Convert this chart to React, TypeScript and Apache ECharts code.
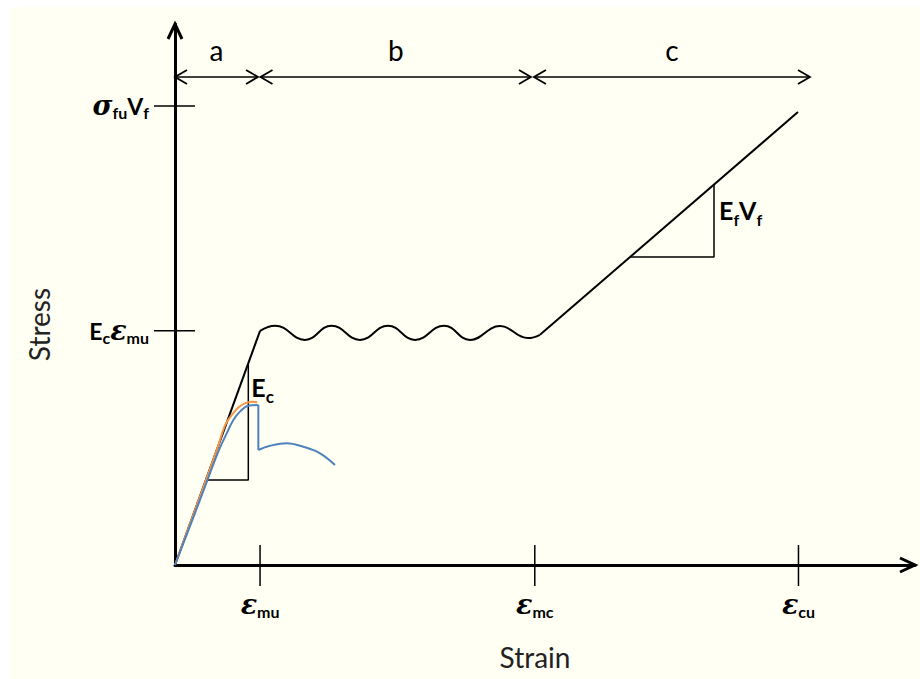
import React, { useEffect, useRef } from 'react';
import * as echarts from 'echarts';

// Schematic units: strain normalised to the matrix cracking strain,
// stress normalised to the first-cracking stress E_c·ε_mu.
const AXIS_X_MAX = 8.7;
const AXIS_Y_MAX = 2.31;

const STRAIN_TICKS = [1.0, 4.23, 7.33];          // ε_mu, ε_mc, ε_cu
const STRAIN_TICK_SUBS = ['mu', 'mc', 'cu'];
const STRESS_TICKS = [1.0, 1.96];                 // E_c ε_mu, σ_fu V_f

// Composite response: elastic rise, multiple cracking plateau, fibre-only loading
const ELASTIC = [[0, 0], [1.0, 1.0]];
const MULTIPLE_CRACKING = [
  [1.0, 1.0], [1.176, 1.022], [1.528, 0.961], [1.84, 1.022], [2.175, 0.961],
  [2.504, 1.022], [2.822, 0.961], [3.163, 1.022], [3.468, 0.961], [3.821, 1.02],
  [4.15, 0.969], [4.291, 0.983],
];
const FIBRE_LOADING = [[4.291, 0.983], [7.324, 1.934]];

// Slope triangles
const EC_TRIANGLE = [[0.373, 0.363], [0.862, 0.363], [0.862, 0.856]];
const EFVF_TRIANGLE = [[5.349, 1.315], [6.337, 1.315], [6.337, 1.627]];

// Unreinforced matrix responses
const MATRIX_A = [
  [0, 0], [0.5, 0.5], [0.588, 0.596], [0.666, 0.64], [0.745, 0.673],
  [0.823, 0.69], [0.9, 0.697], [0.967, 0.695],
];
const MATRIX_B_RISE = [
  [0, 0], [0.294, 0.278], [0.509, 0.484], [0.608, 0.562], [0.686, 0.619],
  [0.764, 0.655], [0.862, 0.68], [0.98, 0.683],
];
const MATRIX_B_DROP = [[0.98, 0.683], [0.98, 0.491]];
const MATRIX_B_TAIL = [
  [0.98, 0.491], [1.117, 0.509], [1.313, 0.52], [1.508, 0.505],
  [1.705, 0.477], [1.881, 0.427],
];

// Stage spans drawn above the curve
const SPAN_NAMES = ['a', 'b', 'c'];
const SPAN_FROM = [0, 1.005, 4.22];
const SPAN_TO = [0.976, 4.185, 7.465];
const SPAN_LEVEL = 2.084;

const LATIN = 'Lato, "Open Sans", sans-serif';
const GREEK = '"DejaVu Serif", "Liberation Serif", serif';
const INK = '#000';
const ORANGE = '#F79646';
const BLUE = '#4F81BD';

const tickRich = {
  g: { fontFamily: GREEK, fontStyle: 'italic', fontWeight: 'bold', fontSize: 27, color: INK },
  L: { fontFamily: LATIN, fontWeight: 'bold', fontSize: 23, color: INK },
  s: { fontFamily: LATIN, fontWeight: 'bold', fontSize: 16, color: INK, padding: [14, 0, 0, 0] },
};

const nearestIndex = (arr: number[], v: number) => {
  let best = 0;
  arr.forEach((a, i) => {
    if (Math.abs(a - v) < Math.abs(arr[best] - v)) best = i;
  });
  return best;
};

const chevron = (tip: number[], dir: 'left' | 'right' | 'up', len: number, half: number, width: number) => {
  const [x, y] = tip;
  let points: number[][];
  if (dir === 'right') points = [[x - len, y - half], [x, y], [x - len, y + half]];
  else if (dir === 'left') points = [[x + len, y - half], [x, y], [x + len, y + half]];
  else points = [[x - half, y + len], [x, y], [x + half, y + len]];
  return {
    type: 'polyline',
    shape: { points },
    style: { stroke: INK, lineWidth: width, fill: 'none' },
  };
};

const slopeLabel = (x: number, y: number, text: string, size: number, subSize: number, pad: number) => ({
  type: 'text',
  x,
  y,
  style: {
    text,
    fill: INK,
    align: 'left',
    verticalAlign: 'middle',
    fontFamily: LATIN,
    fontWeight: 'bold',
    fontSize: size,
    rich: {
      m: { fontFamily: LATIN, fontWeight: 'bold', fontSize: size },
      s: { fontFamily: LATIN, fontWeight: 'bold', fontSize: subSize, padding: [pad, 0, 0, 0] },
    },
  },
});

const line = (data: number[][], color: string, width: number, smooth: boolean | number, z: number) => ({
  type: 'line',
  data,
  smooth,
  symbol: 'none',
  silent: true,
  z,
  lineStyle: { color, width },
});

export default function App() {
  const ref = useRef<HTMLDivElement>(null);

  useEffect(() => {
    if (!ref.current) return;
    const chart = echarts.init(ref.current, null, { renderer: 'svg' });

    const renderDecor = (_params: any, api: any) => {
      const children: any[] = [];
      const xEnd = api.coord([AXIS_X_MAX, 0]);
      const yEnd = api.coord([0, AXIS_Y_MAX]);
      children.push(chevron(xEnd, 'right', 15, 7, 3));
      children.push(chevron(yEnd, 'up', 15, 7, 3));

      STRAIN_TICKS.forEach((v) => {
        const p = api.coord([v, 0]);
        children.push({
          type: 'line',
          shape: { x1: p[0], y1: p[1] - 20, x2: p[0], y2: p[1] + 21 },
          style: { stroke: INK, lineWidth: 1.5 },
        });
      });
      STRESS_TICKS.forEach((v) => {
        const p = api.coord([0, v]);
        children.push({
          type: 'line',
          shape: { x1: p[0] - 21, y1: p[1], x2: p[0] + 20, y2: p[1] },
          style: { stroke: INK, lineWidth: 1.5 },
        });
      });

      SPAN_NAMES.forEach((name, i) => {
        const p1 = api.coord([SPAN_FROM[i], SPAN_LEVEL]);
        const p2 = api.coord([SPAN_TO[i], SPAN_LEVEL]);
        children.push({
          type: 'line',
          shape: { x1: p1[0], y1: p1[1], x2: p2[0], y2: p2[1] },
          style: { stroke: INK, lineWidth: 1.5 },
        });
        children.push(chevron(p1, 'left', 12, 7, 1.8));
        children.push(chevron(p2, 'right', 12, 7, 1.8));
        children.push({
          type: 'text',
          x: (p1[0] + p2[0]) / 2,
          y: p1[1] - 27,
          style: {
            text: name,
            fill: INK,
            align: 'center',
            verticalAlign: 'middle',
            fontFamily: LATIN,
            fontSize: 28,
          },
        });
      });

      const ecTop = api.coord(EC_TRIANGLE[2]);
      children.push(slopeLabel(ecTop[0] + 3, ecTop[1] + 22, '{m|E}{s|c}', 25, 17, 20));
      const efTop = api.coord(EFVF_TRIANGLE[2]);
      children.push(slopeLabel(efTop[0] + 5, efTop[1] + 26, '{m|E}{s|f}{m|V}{s|f}', 25, 16, 20));

      return { type: 'group', children };
    };

    chart.setOption({
      animation: false,
      backgroundColor: 'transparent',
      grid: { left: 175, right: 5, top: 24, bottom: 114, outerBoundsMode: 'none' },
      xAxis: {
        type: 'value',
        min: 0,
        max: AXIS_X_MAX,
        axisLine: { show: true, onZero: false, lineStyle: { color: INK, width: 3 } },
        axisTick: { show: false },
        splitLine: { show: false },
        axisLabel: {
          customValues: STRAIN_TICKS,
          margin: 24,
          formatter: (v: number) => `{g|ε}{s|${STRAIN_TICK_SUBS[nearestIndex(STRAIN_TICKS, v)]}}`,
          rich: tickRich,
        },
        name: 'Strain',
        nameLocation: 'middle',
        nameGap: 78,
        nameMoveOverlap: false,
        nameTextStyle: { fontFamily: LATIN, fontSize: 28, color: '#222', padding: [0, 20, 0, 0] },
      },
      yAxis: {
        type: 'value',
        min: 0,
        max: AXIS_Y_MAX,
        axisLine: { show: true, onZero: false, lineStyle: { color: INK, width: 3 } },
        axisTick: { show: false },
        splitLine: { show: false },
        axisLabel: {
          customValues: STRESS_TICKS,
          margin: 26,
          formatter: (v: number) =>
            nearestIndex(STRESS_TICKS, v) === 0
              ? '{L|E}{s|c}{g|ε}{s|mu}'
              : '{g|σ}{s|fu}{L|V}{s|f}',
          rich: tickRich,
        },
        name: 'Stress',
        nameLocation: 'middle',
        nameGap: 122,
        nameRotate: 90,
        nameMoveOverlap: false,
        nameTextStyle: { fontFamily: LATIN, fontSize: 28, color: '#222', padding: [0, 60, 0, 0] },
      },
      series: [
        line(ELASTIC, INK, 2, false, 3),
        line(MULTIPLE_CRACKING, INK, 2, 0.45, 3),
        line(FIBRE_LOADING, INK, 2, false, 3),
        line(EC_TRIANGLE, INK, 1.5, false, 3),
        line(EFVF_TRIANGLE, INK, 1.5, false, 3),
        line(MATRIX_A, ORANGE, 2, 0.4, 4),
        line(MATRIX_B_RISE, BLUE, 2, 0.4, 5),
        line(MATRIX_B_DROP, BLUE, 2, false, 5),
        line(MATRIX_B_TAIL, BLUE, 2, 0.4, 5),
        {
          type: 'custom',
          coordinateSystem: 'cartesian2d',
          data: [[0, 0]],
          clip: false,
          silent: true,
          z: 6,
          renderItem: renderDecor,
        },
      ],
    });

    return () => chart.dispose();
  }, []);

  return (
    <div style={{ position: 'fixed', left: 0, top: 0, width: 920, height: 679, background: '#fff' }}>
      <div style={{ position: 'absolute', left: 10, top: 7, right: 0, bottom: 0, background: '#FFFFF3' }} />
      <div ref={ref} style={{ position: 'absolute', left: 0, top: 0, width: 920, height: 679 }} />
    </div>
  );
}
